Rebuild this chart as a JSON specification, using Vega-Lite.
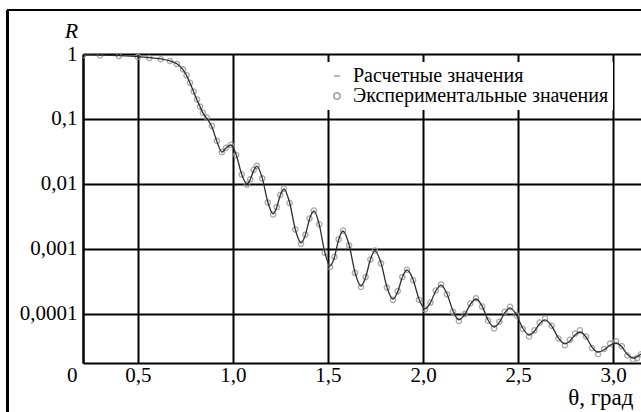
{
  "$schema": "https://vega.github.io/schema/vega-lite/v6.json",
  "width": 558,
  "height": 309,
  "autosize": {"type": "none"},
  "padding": {"left": 83, "top": 54, "right": 0, "bottom": 49},
  "background": "white",
  "config": {
    "view": {"stroke": null},
    "font": "Liberation Serif"
  },
  "data": {
    "values": [
      {"t": 0.211, "calc": 0.973, "exp": 0.96},
      {"t": 0.30, "calc": 0.964, "exp": 0.95},
      {"t": 0.40, "calc": 0.944, "exp": 0.93},
      {"t": 0.50, "calc": 0.912, "exp": 0.90},
      {"t": 0.56, "calc": 0.881, "exp": 0.87},
      {"t": 0.62, "calc": 0.841, "exp": 0.83},
      {"t": 0.668, "calc": 0.785, "exp": 0.78},
      {"t": 0.705, "calc": 0.708, "exp": 0.70},
      {"t": 0.737, "calc": 0.575, "exp": 0.58},
      {"t": 0.756, "calc": 0.468, "exp": 0.47},
      {"t": 0.774, "calc": 0.358, "exp": 0.36},
      {"t": 0.793, "calc": 0.263, "exp": 0.265},
      {"t": 0.811, "calc": 0.196, "exp": 0.20},
      {"t": 0.827, "calc": 0.155, "exp": 0.155},
      {"t": 0.842, "calc": 0.124, "exp": 0.125},
      {"t": 0.863, "calc": 0.102, "exp": 0.105},
      {"t": 0.889, "calc": 0.0759, "exp": 0.078},
      {"t": 0.916, "calc": 0.0447, "exp": 0.046},
      {"t": 0.942, "calc": 0.0310, "exp": 0.031},
      {"t": 0.963, "calc": 0.0358, "exp": 0.036},
      {"t": 0.989, "calc": 0.0398, "exp": 0.040},
      {"t": 1.017, "calc": 0.0282, "exp": 0.028},
      {"t": 1.046, "calc": 0.0141, "exp": 0.014},
      {"t": 1.074, "calc": 0.0100, "exp": 0.0098},
      {"t": 1.091, "calc": 0.0117, "exp": 0.0118},
      {"t": 1.109, "calc": 0.0162, "exp": 0.0165},
      {"t": 1.126, "calc": 0.0189, "exp": 0.019},
      {"t": 1.154, "calc": 0.0124, "exp": 0.0122},
      {"t": 1.183, "calc": 0.00530, "exp": 0.0052},
      {"t": 1.211, "calc": 0.00347, "exp": 0.0034},
      {"t": 1.230, "calc": 0.00433, "exp": 0.0044},
      {"t": 1.249, "calc": 0.00671, "exp": 0.0068},
      {"t": 1.268, "calc": 0.00838, "exp": 0.0085},
      {"t": 1.298, "calc": 0.00519, "exp": 0.0051},
      {"t": 1.328, "calc": 0.00200, "exp": 0.0020},
      {"t": 1.358, "calc": 0.00124, "exp": 0.00120},
      {"t": 1.381, "calc": 0.00164, "exp": 0.00166},
      {"t": 1.403, "calc": 0.00290, "exp": 0.00295},
      {"t": 1.426, "calc": 0.00385, "exp": 0.0039},
      {"t": 1.454, "calc": 0.00237, "exp": 0.0024},
      {"t": 1.483, "calc": 0.000893, "exp": 0.00088},
      {"t": 1.511, "calc": 0.000550, "exp": 0.00053},
      {"t": 1.534, "calc": 0.000748, "exp": 0.00076},
      {"t": 1.556, "calc": 0.00139, "exp": 0.00141},
      {"t": 1.579, "calc": 0.00189, "exp": 0.00192},
      {"t": 1.611, "calc": 0.00116, "exp": 0.00114},
      {"t": 1.642, "calc": 0.000439, "exp": 0.00043},
      {"t": 1.674, "calc": 0.000269, "exp": 0.00026},
      {"t": 1.698, "calc": 0.000367, "exp": 0.00037},
      {"t": 1.723, "calc": 0.000684, "exp": 0.00069},
      {"t": 1.747, "calc": 0.000933, "exp": 0.00095},
      {"t": 1.779, "calc": 0.000610, "exp": 0.0006},
      {"t": 1.810, "calc": 0.000260, "exp": 0.000255},
      {"t": 1.842, "calc": 0.000170, "exp": 0.000165},
      {"t": 1.867, "calc": 0.000220, "exp": 0.000225},
      {"t": 1.891, "calc": 0.000367, "exp": 0.00037},
      {"t": 1.916, "calc": 0.000475, "exp": 0.00048},
      {"t": 1.948, "calc": 0.000337, "exp": 0.00033},
      {"t": 1.979, "calc": 0.000169, "exp": 0.000166},
      {"t": 2.011, "calc": 0.000120, "exp": 0.000118},
      {"t": 2.039, "calc": 0.000149, "exp": 0.00015},
      {"t": 2.067, "calc": 0.000226, "exp": 0.00023},
      {"t": 2.095, "calc": 0.000279, "exp": 0.000285},
      {"t": 2.126, "calc": 0.000205, "exp": 0.0002},
      {"t": 2.158, "calc": 0.000111, "exp": 0.000108},
      {"t": 2.189, "calc": 0.0000813, "exp": 0.000078},
      {"t": 2.219, "calc": 0.0000977, "exp": 0.0000995},
      {"t": 2.249, "calc": 0.000141, "exp": 0.000145},
      {"t": 2.279, "calc": 0.000170, "exp": 0.000175},
      {"t": 2.311, "calc": 0.000132, "exp": 0.00013},
      {"t": 2.342, "calc": 0.0000807, "exp": 0.000079},
      {"t": 2.374, "calc": 0.0000631, "exp": 0.000060},
      {"t": 2.402, "calc": 0.0000746, "exp": 0.000076},
      {"t": 2.430, "calc": 0.000104, "exp": 0.000108},
      {"t": 2.458, "calc": 0.000124, "exp": 0.000129},
      {"t": 2.491, "calc": 0.0000973, "exp": 0.000096},
      {"t": 2.525, "calc": 0.0000604, "exp": 0.000059},
      {"t": 2.558, "calc": 0.0000475, "exp": 0.000045},
      {"t": 2.586, "calc": 0.0000543, "exp": 0.000056},
      {"t": 2.614, "calc": 0.0000711, "exp": 0.000074},
      {"t": 2.642, "calc": 0.0000813, "exp": 0.000085},
      {"t": 2.677, "calc": 0.0000656, "exp": 0.000066},
      {"t": 2.712, "calc": 0.0000429, "exp": 0.000042},
      {"t": 2.747, "calc": 0.0000347, "exp": 0.000033},
      {"t": 2.773, "calc": 0.0000385, "exp": 0.00004},
      {"t": 2.800, "calc": 0.0000475, "exp": 0.00005},
      {"t": 2.826, "calc": 0.0000528, "exp": 0.000056},
      {"t": 2.858, "calc": 0.0000443, "exp": 0.000045},
      {"t": 2.889, "calc": 0.0000310, "exp": 0.00003},
      {"t": 2.921, "calc": 0.0000260, "exp": 0.000024},
      {"t": 2.953, "calc": 0.0000282, "exp": 0.000029},
      {"t": 2.984, "calc": 0.0000330, "exp": 0.000035},
      {"t": 3.016, "calc": 0.0000358, "exp": 0.000038},
      {"t": 3.046, "calc": 0.0000313, "exp": 0.000032},
      {"t": 3.075, "calc": 0.0000240, "exp": 0.000023},
      {"t": 3.105, "calc": 0.0000210, "exp": 0.00002},
      {"t": 3.126, "calc": 0.0000219, "exp": 0.000021},
      {"t": 3.147, "calc": 0.0000243, "exp": 0.000024}
    ]
  },
  "layer": [
    {
      "mark": {"type": "point", "filled": false, "size": 28, "strokeWidth": 1.3, "color": "#999999", "opacity": 0.85, "clip": true},
      "encoding": {
        "x": {
          "field": "t", "type": "quantitative",
          "scale": {"domain": [0.211, 3.147], "nice": false, "zero": false},
          "axis": {
            "values": [0.211, 0.5, 1, 1.5, 2, 2.5, 3],
            "labelExpr": "datum.value < 0.3 ? '0' : replace(format(datum.value, '.1f'), '.', ',')",
            "labelAlign": {"condition": {"test": "datum.value < 0.3", "value": "right"}, "value": "center"},
            "labelOffset": {"condition": {"test": "datum.value < 0.3", "value": -6}, "value": 0},
            "labelFont": "Liberation Serif", "labelFontSize": 21, "labelColor": "black",
            "labelPadding": 1, "labelFlush": false, "labelOverlap": false,
            "ticks": false, "domain": true, "domainColor": "black", "domainWidth": 2,
            "grid": true, "gridColor": "black", "gridWidth": 2, "gridOpacity": 1,
            "title": "θ, град", "titleFont": "Liberation Serif", "titleFontSize": 23,
            "titleFontWeight": "normal", "titleColor": "black",
            "titleX": 550, "titleY": 41, "titleAlign": "right", "titleBaseline": "alphabetic"
          }
        },
        "y": {
          "field": "exp", "type": "quantitative",
          "scale": {"type": "log", "domain": [0.00001762, 1], "nice": false},
          "axis": {
            "values": [0.0001, 0.001, 0.01, 0.1, 1],
            "labelExpr": "replace(format(datum.value, '~g'), '.', ',')",
            "labelFont": "Liberation Serif", "labelFontSize": 21, "labelColor": "black",
            "labelPadding": 6, "labelFlush": false, "labelOverlap": false,
            "ticks": false, "domain": true, "domainColor": "black", "domainWidth": 2,
            "grid": true, "gridColor": "black", "gridWidth": 2, "gridOpacity": 1,
            "title": "R", "titleFont": "Liberation Serif", "titleFontSize": 22,
            "titleFontStyle": "italic", "titleFontWeight": "normal", "titleColor": "black",
            "titleAngle": 0, "titleX": -12, "titleY": -17, "titleAlign": "center", "titleBaseline": "alphabetic"
          }
        },
        "shape": {
          "datum": "Экспериментальные значения",
          "scale": {"domain": ["Расчетные значения", "Экспериментальные значения"], "range": ["stroke", "circle"]},
          "legend": {
            "title": null,
            "orient": "none", "legendX": 240, "legendY": 8,
            "padding": 4, "fillColor": "white",
            "labelFont": "Liberation Serif", "labelFontSize": 20, "labelColor": "black",
            "labelLimit": 400,
            "labelOffset": 6, "rowPadding": 0, "symbolSize": 40,
            "symbolStrokeColor": "#9a9a9a", "symbolFillColor": "transparent", "symbolStrokeWidth": 1.6
          }
        }
      }
    },
    {
      "mark": {"type": "line", "strokeWidth": 1.3, "color": "#2e2e2e", "interpolate": "monotone", "clip": true},
      "encoding": {
        "x": {"field": "t", "type": "quantitative"},
        "y": {"field": "calc", "type": "quantitative"}
      }
    },
    {
      "mark": {"type": "rule", "color": "black", "strokeWidth": 2},
      "encoding": {
        "x": {"datum": -0.184},
        "y": {"datum": 4.75},
        "y2": {"datum": 0.000001}
      }
    },
    {
      "mark": {"type": "rule", "color": "black", "strokeWidth": 2},
      "encoding": {
        "x": {"datum": -0.184},
        "x2": {"datum": 3.5},
        "y": {"datum": 4.75}
      }
    }
  ]
}
